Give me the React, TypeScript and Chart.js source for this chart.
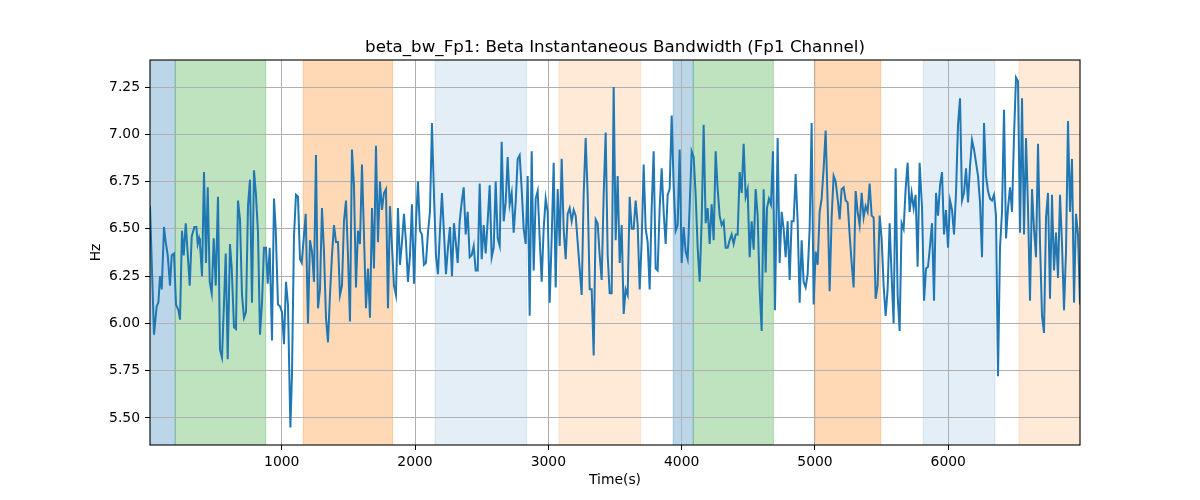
import { useEffect, useRef } from "react"
import { Chart, registerables } from "chart.js"

Chart.register(...registerables)

const chartTitle = "beta_bw_Fp1: Beta Instantaneous Bandwidth (Fp1 Channel)"

const times = [
    12, 42, 62, 75, 87, 100, 117, 130, 145, 162, 175, 192, 207, 225, 237, 252, 265, 280, 292, 310,
    325, 345, 360, 370, 380, 387, 402, 417, 432, 445, 460, 475, 490, 505, 522, 537, 552, 567, 580, 595,
    612, 625, 642, 657, 672, 687, 702, 717, 732, 747, 762, 777, 792, 807, 822, 837, 852, 867, 882, 895,
    910, 927, 942, 955, 972, 987, 1002, 1017, 1032, 1047, 1065, 1077, 1092, 1107, 1122,
    1137, 1150, 1180, 1197, 1212, 1227, 1242, 1257, 1272, 1287, 1302, 1317, 1332, 1347, 1362, 1377, 1392, 1407, 1422, 1437,
    1452, 1467, 1482, 1497, 1512, 1527, 1542, 1557, 1572, 1587, 1602, 1617, 1632, 1647, 1662, 1677, 1692, 1707, 1722, 1737,
    1752, 1767, 1782, 1797, 1812, 1827, 1842, 1857, 1872, 1887, 1902, 1917, 1932, 1947, 1962, 1977, 1992, 2007, 2022, 2037,
    2052, 2067, 2082, 2097, 2112, 2127, 2142, 2157, 2172, 2187, 2202, 2217, 2232, 2247, 2262, 2277, 2292,
    2320, 2335, 2350, 2365, 2380, 2395, 2410, 2425, 2440, 2455, 2470, 2485, 2500, 2515, 2530, 2545, 2560, 2575, 2590, 2605,
    2620, 2635, 2650, 2665, 2680, 2695, 2710, 2725, 2740, 2755, 2770, 2785, 2800, 2815, 2830, 2845, 2860, 2875, 2890, 2905,
    2920, 2935, 2950, 2965, 2980, 2995, 3010, 3025, 3040, 3055, 3070, 3085, 3100, 3115, 3130, 3145, 3160, 3175, 3190, 3205,
    3220, 3235, 3250, 3265, 3280, 3295, 3310, 3325, 3340, 3355, 3370, 3385, 3400, 3415, 3430, 3445, 3460,
    3475, 3490, 3505, 3520, 3535, 3550, 3565, 3580, 3595, 3610, 3625, 3640, 3655, 3670, 3685, 3700, 3715, 3730, 3745, 3760,
    3775, 3790, 3805, 3820, 3835, 3850, 3865, 3880, 3895, 3910, 3925, 3940, 3955, 3970, 3985, 4000, 4015, 4030, 4045, 4060,
    4075, 4090, 4105, 4120, 4135, 4150, 4165, 4180, 4195, 4210, 4225, 4240, 4255, 4270, 4285, 4300, 4315, 4330, 4345, 4360,
    4375, 4390, 4405, 4420, 4435, 4450, 4465, 4480, 4495, 4510, 4525, 4540, 4555, 4570, 4585, 4600, 4615,
    4630, 4640, 4655, 4670, 4685, 4700, 4720, 4735, 4750, 4765, 4780, 4795, 4810, 4825, 4840, 4855, 4870, 4885, 4900, 4915,
    4930, 4945, 4960, 4975, 4990, 5005, 5020, 5035, 5050, 5065, 5080, 5095, 5110, 5125, 5140, 5155, 5170, 5185, 5200, 5215,
    5230, 5245, 5260, 5275, 5290, 5305, 5320, 5335, 5350, 5365, 5380, 5395, 5410, 5425, 5440, 5455, 5470, 5485, 5500, 5515,
    5530, 5545, 5560, 5575, 5590, 5605, 5620, 5635, 5650, 5665, 5680, 5695, 5710, 5725, 5740, 5755, 5770, 5785,
    5803, 5818, 5833, 5848, 5863, 5878, 5893, 5908, 5923, 5938, 5953, 5968, 5983, 5998, 6013, 6028, 6043, 6058, 6073, 6088,
    6103, 6118, 6133, 6148, 6163, 6178, 6193, 6208, 6223, 6238, 6253, 6268, 6283, 6298, 6313, 6328, 6343, 6358, 6373, 6388,
    6403, 6418, 6433, 6448, 6463, 6478, 6493, 6508, 6523, 6538, 6553, 6568, 6583, 6598, 6613, 6628, 6643, 6658, 6673, 6688,
    6703, 6718, 6733, 6748, 6763, 6778, 6793, 6808, 6823, 6838, 6853, 6868, 6883, 6898, 6913, 6928, 6943, 6958, 6973, 6988
]

const values = [
    6.62, 5.94, 6.09, 6.11, 6.25, 6.18, 6.51, 6.43, 6.36, 6.20, 6.36, 6.37, 6.10, 6.07, 6.02, 6.49, 6.36, 6.53, 6.40, 6.20,
    6.46, 6.51, 6.51, 6.42, 6.45, 6.42, 6.25, 6.80, 6.32, 6.72, 6.22, 6.16, 6.45, 6.20, 6.67, 5.86, 5.82, 6.11, 6.37, 5.81,
    6.42, 6.29, 5.98, 5.97, 6.65, 6.55, 6.15, 6.03, 6.06, 6.62, 6.76, 6.11, 6.81, 6.68, 6.48, 5.94, 6.11, 6.40, 6.40, 6.21,
    6.40, 5.91, 6.66, 6.50, 6.10, 6.09, 6.06, 5.89, 6.22, 6.10, 5.45, 5.73, 6.46, 6.68, 6.67,
    6.34, 6.32, 6.58, 6.00, 6.44, 6.38, 6.22, 6.89, 6.08, 6.18, 6.61, 6.38, 6.03, 5.90, 6.15, 6.36, 6.52, 6.43, 6.43, 6.15,
    6.20, 6.54, 6.65, 6.36, 6.01, 6.92, 6.73, 6.19, 6.49, 6.42, 6.84, 6.47, 6.08, 6.29, 6.03, 6.61, 6.29, 6.94, 6.43, 6.75,
    6.60, 6.69, 6.71, 6.08, 6.62, 6.41, 6.20, 6.15, 6.61, 6.31, 6.43, 6.58, 6.43, 6.22, 6.36, 6.63, 6.21, 6.53, 6.75, 6.49,
    6.47, 6.31, 6.32, 6.48, 6.59, 7.06, 6.68, 6.36, 6.26, 6.49, 6.69, 6.48, 6.26, 6.40, 6.51, 6.25, 6.53,
    6.32, 6.54, 6.64, 6.72, 6.47, 6.59, 6.35, 6.36, 6.41, 6.28, 6.28, 6.74, 6.34, 6.52, 6.37, 6.54, 6.73, 6.35, 6.40, 6.75,
    6.45, 6.41, 6.96, 6.54, 6.64, 6.88, 6.63, 6.69, 6.48, 6.64, 6.87, 6.89, 6.71, 6.50, 6.42, 6.78, 6.04, 6.91, 6.28, 6.66,
    6.70, 6.45, 6.22, 6.50, 6.66, 6.59, 6.11, 6.45, 6.85, 6.19, 6.71, 6.41, 6.87, 6.50, 6.34, 6.58, 6.61, 6.54, 6.60, 6.57,
    6.43, 6.29, 6.15, 6.68, 6.98, 6.68, 6.18, 6.18, 5.83, 6.55, 6.53, 6.36, 6.23, 6.68, 7.01, 6.36, 6.16,
    6.16, 7.25, 6.44, 6.78, 6.32, 6.52, 6.05, 6.18, 6.15, 6.67, 6.50, 6.50, 6.65, 6.52, 6.18, 6.43, 6.84, 6.50, 6.43, 6.18,
    6.61, 6.91, 6.29, 6.28, 6.61, 6.82, 6.59, 6.42, 6.68, 6.71, 7.10, 6.73, 6.49, 6.52, 6.92, 6.32, 6.51, 6.38, 6.34, 6.62,
    6.91, 6.88, 6.68, 6.40, 6.22, 6.54, 7.05, 6.53, 6.61, 6.42, 6.63, 6.44, 6.91, 6.71, 6.57, 6.52, 6.54, 6.40, 6.40, 6.44,
    6.47, 6.42, 6.47, 6.47, 6.80, 6.69, 6.95, 6.67, 6.71, 6.35, 6.54, 6.39, 6.71, 6.57, 6.18, 5.96, 6.71,
    6.27, 6.61, 6.66, 6.63, 6.91, 6.07, 6.98, 6.32, 6.59, 6.50, 6.35, 6.54, 6.23, 6.54, 6.54, 6.79, 6.54, 6.11, 6.44, 6.22,
    6.19, 6.26, 6.50, 7.06, 6.10, 6.38, 6.31, 6.59, 6.66, 6.82, 7.02, 6.64, 6.17, 6.56, 6.78, 6.75, 6.66, 6.55, 6.71, 6.72,
    6.65, 6.64, 6.47, 6.32, 6.19, 6.70, 6.59, 6.52, 6.69, 6.56, 6.62, 6.59, 6.74, 6.57, 6.56, 6.13, 6.20, 6.57, 6.45, 6.20,
    6.04, 6.18, 6.53, 6.25, 6.00, 6.82, 6.15, 5.96, 6.53, 6.50, 6.71, 6.85, 6.59, 6.69, 6.61, 6.68, 6.30, 6.85,
    6.61, 6.12, 6.29, 6.30, 6.41, 6.53, 6.12, 6.69, 6.57, 6.73, 6.80, 6.47, 6.60, 6.40, 6.65, 6.60, 6.47, 6.69, 7.05, 7.19,
    6.65, 6.69, 6.82, 6.64, 6.83, 6.97, 6.92, 6.85, 6.78, 6.64, 6.35, 7.06, 6.78, 6.70, 6.66, 6.65, 6.68, 6.57, 5.72, 6.40,
    6.59, 7.13, 6.45, 6.61, 6.72, 6.59, 6.99, 7.30, 7.28, 6.48, 7.19, 6.47, 6.98, 6.61, 6.12, 6.71, 6.50, 6.35, 6.95, 6.43,
    6.04, 5.95, 6.56, 6.69, 6.13, 6.68, 6.28, 6.48, 6.24, 6.68, 6.42, 6.07, 6.38, 7.07, 6.59, 6.87, 6.11, 6.58, 6.47, 6.10
]

// shaded intervals (start, end, kind)
const spanStarts = [0, 201, 1162, 2150, 3080, 3937, 4087, 5000, 5812, 6530]
const spanEnds = [201, 880, 1832, 2837, 3692, 4087, 4688, 5493, 6350, 7000]
const spanKinds = ["blue", "green", "orange", "lightBlue", "lightOrange", "blue", "green", "orange", "lightBlue", "lightOrange"]

const xTicks = [1000, 2000, 3000, 4000, 5000, 6000]
const yTicks = [5.5, 5.75, 6.0, 6.25, 6.5, 6.75, 7.0, 7.25]

const spanColors: Record<string, string> = {
    blue: "rgba(31, 119, 180, 0.3)",
    green: "rgba(44, 160, 44, 0.3)",
    orange: "rgba(255, 127, 14, 0.3)",
    lightBlue: "rgba(31, 119, 180, 0.12)",
    lightOrange: "rgba(255, 127, 14, 0.16)"
}

const FONT = "'DejaVu Sans', sans-serif"

const spansPlugin = {
    id: "spans",
    beforeDraw(chart: any) {
        const { ctx, chartArea, scales } = chart
        const x = scales.x
        ctx.save()
        ctx.beginPath()
        ctx.rect(chartArea.left, chartArea.top, chartArea.width, chartArea.height)
        ctx.clip()
        spanStarts.forEach((start, i) => {
            const x0 = x.getPixelForValue(start)
            const x1 = x.getPixelForValue(spanEnds[i])
            ctx.fillStyle = spanColors[spanKinds[i]]
            ctx.fillRect(x0, chartArea.top, x1 - x0, chartArea.height)
            ctx.strokeStyle = spanColors[spanKinds[i]]
            ctx.lineWidth = 1
            ctx.beginPath()
            ctx.moveTo(x0, chartArea.top)
            ctx.lineTo(x0, chartArea.bottom)
            ctx.moveTo(x1, chartArea.top)
            ctx.lineTo(x1, chartArea.bottom)
            ctx.stroke()
        })
        ctx.restore()
    }
}

const framePlugin = {
    id: "frame",
    afterDatasetsDraw(chart: any) {
        const { ctx, chartArea } = chart
        ctx.save()
        ctx.strokeStyle = "#000"
        ctx.lineWidth = 1.1
        ctx.strokeRect(chartArea.left, chartArea.top, chartArea.width, chartArea.height)
        ctx.restore()
    }
}

const titlePlugin = {
    id: "plotTitle",
    afterDraw(chart: any) {
        const { ctx, chartArea } = chart
        ctx.save()
        ctx.fillStyle = "#000"
        ctx.font = `16.7px ${FONT}`
        ctx.textAlign = "center"
        ctx.textBaseline = "alphabetic"
        ctx.fillText(chartTitle, (chartArea.left + chartArea.right) / 2, chartArea.top - 8)
        ctx.restore()
    }
}

function BandwidthChart() {
    const canvasRef = useRef<HTMLCanvasElement>(null)

    useEffect(() => {
        const points = times.map((t, i) => ({ x: t, y: values[i] }))
        const tickFont = { family: FONT, size: 13.9 }

        const chart = new Chart(canvasRef.current!, {
            type: "line",
            data: {
                datasets: [
                    {
                        data: points,
                        borderColor: "#1f77b4",
                        borderWidth: 2,
                        pointRadius: 0,
                        tension: 0,
                        fill: false
                    }
                ]
            },
            options: {
                animation: false,
                responsive: false,
                devicePixelRatio: 1,
                layout: { padding: { top: 60, right: 120, bottom: 7, left: 84 } },
                plugins: {
                    legend: { display: false },
                    tooltip: { enabled: false }
                },
                scales: {
                    x: {
                        type: "linear",
                        min: 12,
                        max: 6988,
                        afterFit: (s: any) => { s.height = 48 },
                        afterBuildTicks: (s: any) => { s.ticks = xTicks.map(v => ({ value: v })) },
                        ticks: {
                            color: "#000",
                            font: tickFont,
                            padding: 4,
                            maxRotation: 0,
                            autoSkip: false,
                            callback: (v: any) => String(v)
                        },
                        grid: { color: "#b0b0b0", lineWidth: 1, tickColor: "#000", tickLength: 5 },
                        border: { display: false },
                        title: { display: true, text: "Time(s)", color: "#000", font: tickFont, padding: { top: 4, bottom: 4 } }
                    },
                    y: {
                        type: "linear",
                        min: 5.357,
                        max: 7.393,
                        afterFit: (s: any) => { s.width = 66 },
                        afterBuildTicks: (s: any) => { s.ticks = yTicks.map(v => ({ value: v })) },
                        ticks: {
                            color: "#000",
                            font: tickFont,
                            padding: 5,
                            autoSkip: false,
                            callback: (v: any) => Number(v).toFixed(2)
                        },
                        grid: { color: "#b0b0b0", lineWidth: 1, tickColor: "#000", tickLength: 5 },
                        border: { display: false },
                        title: { display: true, text: "Hz", color: "#000", font: tickFont, padding: { top: 4, bottom: 4 } }
                    }
                }
            },
            plugins: [spansPlugin, framePlugin, titlePlugin]
        })

        return () => {
            chart.destroy()
        }
    }, [])

    return <canvas ref={canvasRef} width={1200} height={500}></canvas>
}

export default function App() {
    return (
        <div style={{ position: "fixed", left: 0, top: 0, width: 1200, height: 500, background: "#fff" }}>
            <BandwidthChart />
        </div>
    )
}
